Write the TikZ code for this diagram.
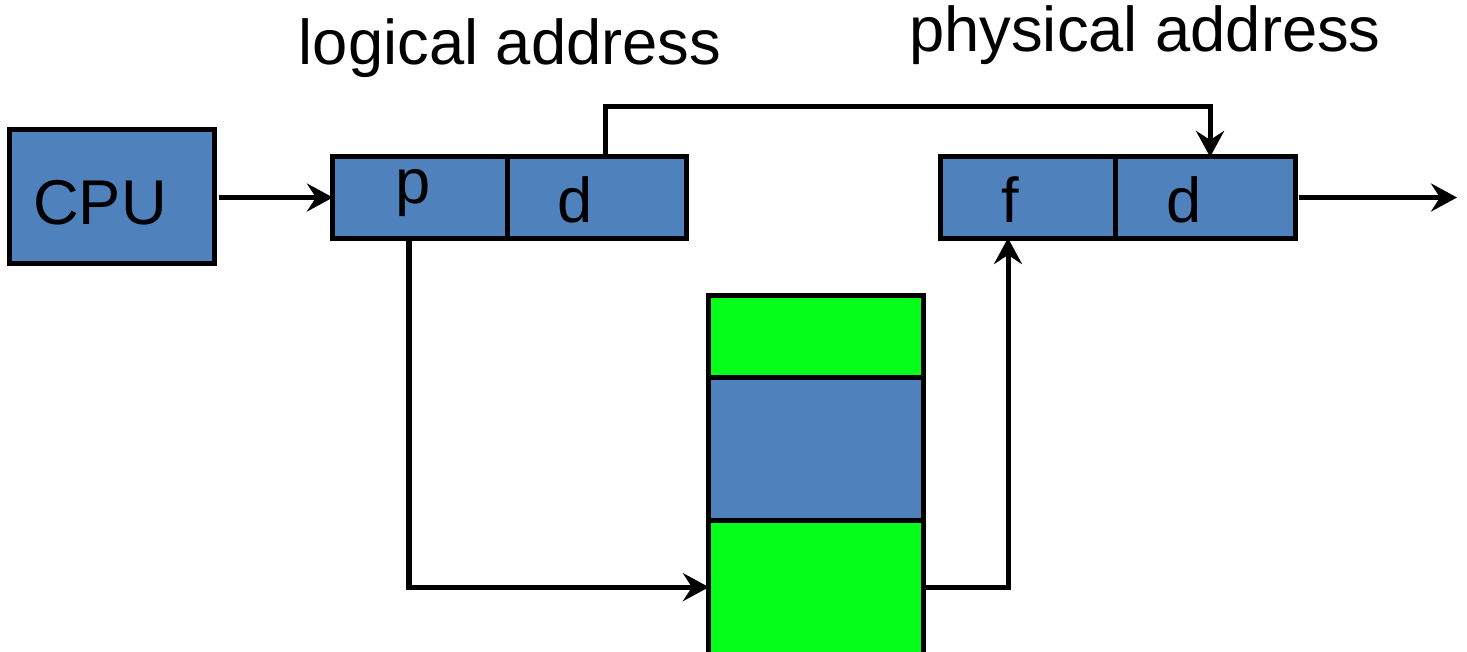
\documentclass[tikz,border=0pt]{standalone}
\usepackage{fontspec}
\setmainfont{Liberation Sans}
\usetikzlibrary{arrows.meta,positioning}
\definecolor{cellblue}{RGB}{79,129,189}
\definecolor{rowgreen}{RGB}{5,255,26}

\begin{document}
\begin{tikzpicture}[x=0.01cm, y=-0.01cm, line width=0.05cm,
  >={Stealth[length=0.26cm, width=0.28cm, inset=0.09cm]},
  cell/.style={draw, fill=cellblue, outer sep=0pt, inner sep=0pt, minimum height=0.81cm},
  entry/.style={draw, outer sep=0pt, minimum width=2.14cm},
  caption/.style={font=\fontsize{18}{20}\selectfont},
  field/.style={anchor=base, inner sep=0pt, font=\fontsize{18}{20}\selectfont}]
 \useasboundingbox (0,0) rectangle (1467,651);
 \node[cell, minimum width=2.04cm, minimum height=1.33cm] (cpu) at (112,196.5) {};
 \node[field] (cpulabel) at (100,224) {CPU};
 % logical and physical address cells
 \node[cell, minimum width=1.74cm] (lp) at (420,197.5) {};
 \node[cell, minimum width=1.79cm, right=0pt of lp] (ld) {};
 \node[cell, minimum width=1.74cm] (pf) at (1028,197.5) {};
 \node[cell, minimum width=1.80cm, right=0pt of pf] (pd) {};
 \node[field] (lplabel) at (413,203) {p};
 \node[field] (ldlabel) at (575,222) {d};
 \node[field] (pflabel) at (1010,222) {f};
 \node[field] (pdlabel) at (1184,222) {d};
 % page table
 \node[entry, fill=rowgreen, minimum height=0.81cm] (t1) at (816,336.5) {};
 \node[entry, fill=cellblue, minimum height=1.43cm, below=0pt of t1] (t2) {};
 \node[entry, fill=rowgreen, minimum height=1.34cm, below=0pt of t2] (t3) {};
 \node[caption] (la) at (510,48) {logical address};
 \node[caption] (pa) at (1145,35) {physical address};
 \coordinate (out) at (1457,195);
 \draw[->] ([xshift=0.05cm]cpu.east |- lp.west) -- (lp.west);
 \draw[->] ([xshift=0.085cm]ld.north) -- ++(0,-50) -| ([xshift=0.05cm]pd.north);
 \draw[->] ([xshift=-0.11cm]lp.south) |- (t3.west);
 \draw[->] (t3.east) -| ([xshift=-0.2cm]pf.south);
 \draw[->] ([xshift=0.04cm]pd.east) -- (pd.east -| out);
\end{tikzpicture}
\end{document}
